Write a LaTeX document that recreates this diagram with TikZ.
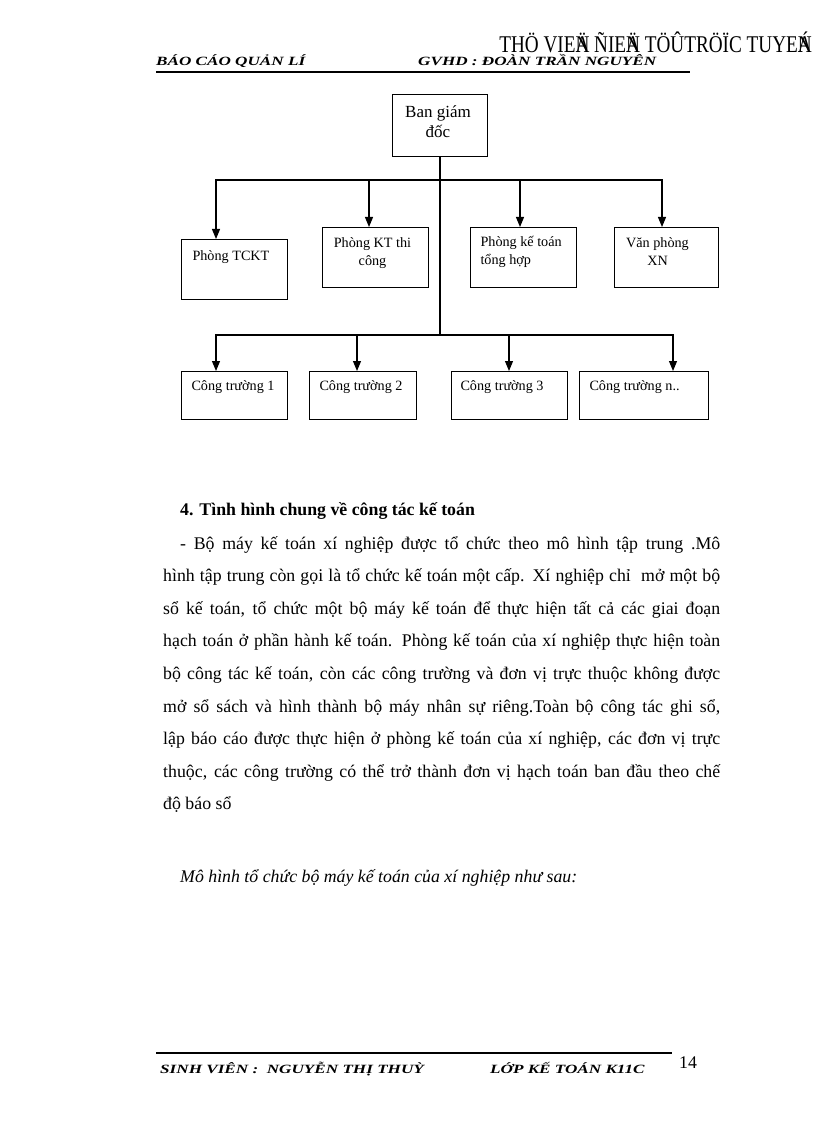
\documentclass[tikz,border=0pt]{standalone}
\usepackage{fontspec}
\setmainfont{Liberation Serif}
\usetikzlibrary{arrows.meta}
\newcommand\bxt[5]{\parbox[c][#2][t]{#1}{#3\rule{0pt}{#4}#5}}
\newcommand\scrtxt[1]{\scalebox{1.36}[1]{#1}}
\begin{document}
\begin{tikzpicture}[x=1pt,y=-1pt,
  bx/.style={draw, line width=1pt, inner sep=0pt, anchor=north west, font=\fontsize{14.2}{18}\selectfont},
  ln/.style={line width=1.1pt},
  arr/.style={ln, -{Triangle[width=8pt,length=10pt]}},
  hdr/.style={inner sep=0pt, anchor=base west, font=\bfseries\itshape\fontsize{12.6}{14}\selectfont},
  rule/.style={line width=2.6pt}]
\fill[white] (0,0) rectangle (816,1123);
\useasboundingbox (0,0) rectangle (816,1123);
% header
\node[hdr] (h1) at (156,66) {\scrtxt{BÁO CÁO QUẢN LÍ}};
\node[hdr] (h2) at (418,66) {\scrtxt{GVHD : ĐOÀN TRẦN NGUYÊN}};
\node[inner sep=0pt, anchor=base east] (h3) at (812,52.5) {\scalebox{0.8}[1]{\fontsize{24}{24}\selectfont THÖ VIE\rlap{Ä}N ÑIE\rlap{Ä}N TÖÛTRÖÏC TUYE\rlap{Á}N}};
\coordinate (hl1) at (156,72);
\coordinate (hl2) at (690,72);
\draw[rule] (hl1) -- (hl2);
% chart boxes
\node[bx, font=\fontsize{17}{20}\selectfont] (ban) at (392,94) {\bxt{95pt}{62pt}{\centering\rightskip=4pt plus 1fil}{23.5pt}{Ban giám\\đốc}};
\node[bx] (tckt) at (181,239) {\bxt{106pt}{60pt}{\raggedright\leftskip=11pt}{20.5pt}{Phòng TCKT}};
\node[bx] (ktc) at (322,227) {\bxt{106pt}{60pt}{\centering\rightskip=6pt plus 1fil}{19.5pt}{Phòng KT thi\\công}};
\node[bx] (ktth) at (470,227) {\bxt{106pt}{60pt}{\raggedright\leftskip=10pt}{18.5pt}{Phòng kế toán\\tổng hợp}};
\node[bx] (vp) at (614,227) {\bxt{104pt}{60pt}{\centering\rightskip=18pt plus 1fil}{19.5pt}{Văn phòng\\XN}};
\node[bx] (ct1) at (181,371) {\bxt{106pt}{48pt}{\raggedright\leftskip=10pt}{18.5pt}{Công trường 1}};
\node[bx] (ct2) at (309,371) {\bxt{107pt}{48pt}{\raggedright\leftskip=10pt}{18.5pt}{Công trường 2}};
\node[bx] (ct3) at (451,371) {\bxt{116pt}{48pt}{\raggedright\leftskip=9pt}{18.5pt}{Công trường 3}};
\node[bx] (ct4) at (579,371) {\bxt{129pt}{48pt}{\raggedright\leftskip=10pt}{18.5pt}{Công trường n..}};
% connectors
\coordinate (t1) at (216,180);
\coordinate (t2) at (369,180);
\coordinate (t3) at (520,180);
\coordinate (t4) at (662,180);
\coordinate (b1) at (216,335);
\coordinate (b2) at (357,335);
\coordinate (b3) at (509,335);
\coordinate (b4) at (673,335);
\coordinate (bj) at (ban.south |- b1);
\draw[ln] (ban.south) -- (bj);
\draw[ln, line cap=rect] (t1) -- (t4);
\draw[ln, line cap=rect] (b1) -- (b4);
\draw[arr] (t1) -- (t1 |- tckt.north);
\draw[arr] (t2) -- (t2 |- ktc.north);
\draw[arr] (t3) -- (t3 |- ktth.north);
\draw[arr] (t4) -- (t4 |- vp.north);
\draw[arr] (b1) -- (b1 |- ct1.north);
\draw[arr] (b2) -- (b2 |- ct2.north);
\draw[arr] (b3) -- (b3 |- ct3.north);
\draw[arr] (b4) -- (b4 |- ct4.north);
% text
\node[inner sep=0pt, anchor=base west, font=\bfseries\fontsize{17.8}{20}\selectfont] (sec) at (180,515) {4. Tình hình chung về công tác kế toán};
\node[inner sep=0pt, anchor=base west, font=\fontsize{17.8}{32.6}\selectfont] (body) at (163,549) {\parbox[t]{557pt}{\hyphenpenalty=10000\tolerance=10000\emergencystretch=20pt
\hspace*{17pt}- Bộ máy kế toán xí nghiệp được tổ chức theo mô hình tập trung .Mô\linebreak
hình tập trung còn gọi là tổ chức kế toán một cấp. Xí nghiệp chỉ\ \ mở một bộ\linebreak
sổ kế toán, tổ chức một bộ máy kế toán để thực hiện tất cả các giai đoạn\linebreak
hạch toán ở phần hành kế toán. Phòng kế toán của xí nghiệp thực hiện toàn\linebreak
bộ công tác kế toán, còn các công trường và đơn vị trực thuộc không được\linebreak
mở sổ sách và hình thành bộ máy nhân sự riêng.Toàn bộ công tác ghi sổ,\linebreak
lập báo cáo được thực hiện ở phòng kế toán của xí nghiệp, các đơn vị trực\linebreak
thuộc, các công trường có thể trở thành đơn vị hạch toán ban đầu theo chế\linebreak
độ báo sổ}};
\node[inner sep=0pt, anchor=base west, font=\itshape\fontsize{17.8}{20}\selectfont] (model) at (180,882) {Mô hình tổ chức bộ máy kế toán của xí nghiệp như sau:};
% footer
\coordinate (fl1) at (156,1053);
\coordinate (fl2) at (672,1053);
\draw[rule] (fl1) -- (fl2);
\node[hdr] (f1) at (160,1073) {\scrtxt{SINH VIÊN :\ \ NGUYỄN THỊ THUỲ}};
\node[hdr] (f2) at (490,1073) {\scrtxt{LỚP KẾ TOÁN K11C}};
\node[inner sep=0pt, anchor=base west, font=\fontsize{17.8}{20}\selectfont] (pg) at (679,1068) {14};
\end{tikzpicture}
\end{document}
